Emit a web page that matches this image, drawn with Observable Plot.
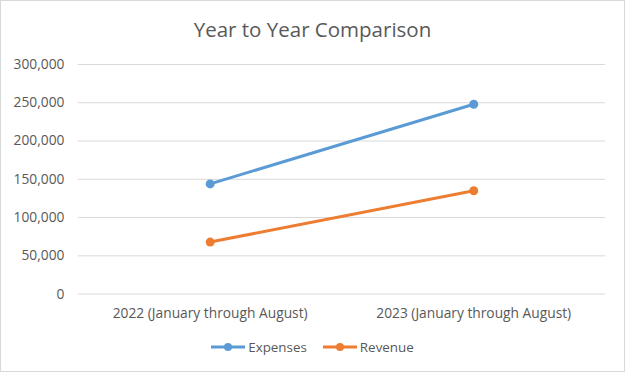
<!DOCTYPE html>
<html>
<head>
<meta charset="utf-8">
<script src="https://cdn.jsdelivr.net/npm/d3@7"></script>
<script src="https://cdn.jsdelivr.net/npm/@observablehq/plot@0.6"></script>
<style>
  html, body { margin: 0; padding: 0; background: #fff; }
  #chart { position: relative; width: 623px; height: 370px; border: 1px solid #d9d9d9; background: #fff; font-family: "Open Sans", sans-serif; color: #595959; overflow: hidden; }
  #title { position: absolute; top: 14px; left: 0; width: 100%; text-align: center; font-size: 20.5px; color: #595959; }
  #plot { position: absolute; top: 48px; left: -1px; }
  #legend { position: absolute; top: 337px; left: 0; width: 100%; display: flex; justify-content: center; align-items: center; font-size: 13.4px; gap: 16px; }
  .item { display: flex; align-items: center; gap: 3px; }
</style>
</head>
<body>
<div id="chart">
  <div id="title">Year to Year Comparison</div>
  <div id="plot"></div>
  <div id="legend"></div>
</div>
<script>
const categories = ["2022 (January through August)", "2023 (January through August)"];
const expenses = [144000, 248000];
const revenue = [68000, 135000];
const seriesNames = ["Expenses", "Revenue"];
const seriesColors = ["#5b9bd5", "#ed7d31"];
const yTicks = [0, 50000, 100000, 150000, 200000, 250000, 300000];

const data = [];
categories.forEach((c, i) => {
  data.push({category: c, series: "Expenses", value: expenses[i]});
  data.push({category: c, series: "Revenue", value: revenue[i]});
});

const fmt = d3.format(",");
const plot = Plot.plot({
  width: 625,
  height: 282,
  marginLeft: 78,
  marginRight: 19,
  marginTop: 15,
  marginBottom: 37,
  style: {fontFamily: "Open Sans, sans-serif", fontSize: "13.8px", color: "#595959", background: "white"},
  x: {type: "point", domain: categories, padding: 0.5, label: null},
  y: {domain: [0, 300000], label: null},
  color: {domain: seriesNames, range: seriesColors},
  marks: [
    Plot.gridY(yTicks, {stroke: "#d9d9d9", strokeOpacity: 1, strokeWidth: 1}),
    Plot.axisY(yTicks, {tickSize: 0, tickPadding: 14, tickFormat: fmt, label: null}),
    Plot.axisX({tickSize: 0, tickPadding: 14, label: null}),
    Plot.line(data, {x: "category", y: "value", z: "series", stroke: "series", strokeWidth: 3}),
    Plot.dot(data, {x: "category", y: "value", fill: "series", r: 4.5})
  ]
});
document.getElementById("plot").appendChild(plot);

const legend = document.getElementById("legend");
seriesNames.forEach((name, i) => {
  const item = document.createElement("div");
  item.className = "item";
  item.innerHTML = `<svg width="34" height="10"><line x1="0" y1="5" x2="34" y2="5" stroke="${seriesColors[i]}" stroke-width="3"/><circle cx="17" cy="5" r="4" fill="${seriesColors[i]}"/></svg><span>${name}</span>`;
  legend.appendChild(item);
});
</script>
</body>
</html>
